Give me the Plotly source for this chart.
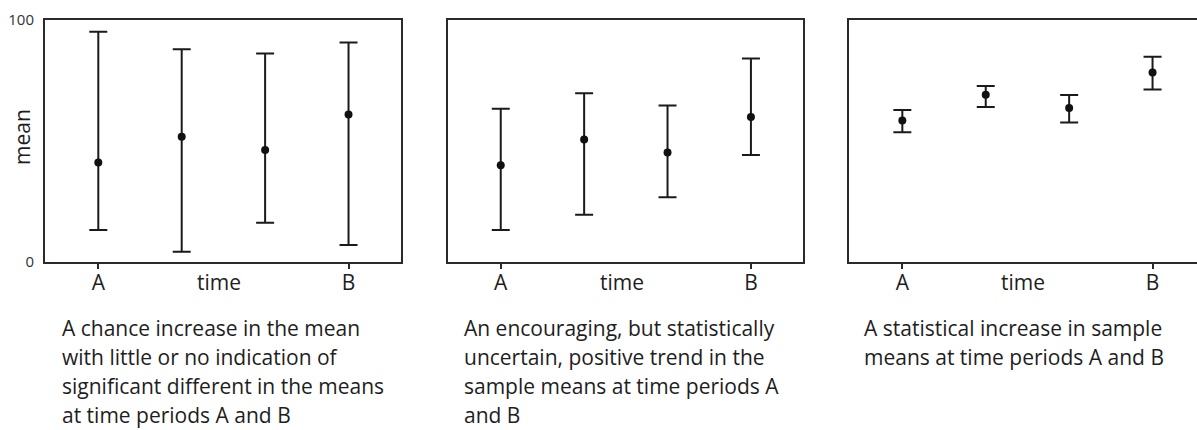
import plotly.graph_objects as go

# ---- data ----
time_x = [1, 2, 3, 4]
tick_vals = [1, 4]
tick_text = ["A", "B"]

p1_mean = [41.0, 51.6, 46.1, 60.8]
p1_upper = [94.9, 87.7, 86.0, 90.5]
p1_lower = [13.1, 4.1, 16.1, 6.9]

p2_mean = [39.8, 50.5, 45.1, 59.7]
p2_upper = [63.1, 69.5, 64.5, 83.9]
p2_lower = [13.1, 19.4, 26.6, 44.1]

p3_mean = [58.3, 68.9, 63.5, 78.1]
p3_upper = [62.6, 72.5, 68.8, 84.6]
p3_lower = [53.4, 63.9, 57.5, 71.1]

captions = [
    ["A chance increase in the mean", "with little or no indication of",
     "significant different in the means", "at time periods A and B"],
    ["An encouraging, but statistically", "uncertain, positive trend in the",
     "sample means at time periods A", "and B"],
    ["A statistical increase in sample", "means at time periods A and B"],
]

W, H = 1197, 430
FONT = "Open Sans"
INK = "#1e1e1e"

panels = [
    dict(mean=p1_mean, up=p1_upper, lo=p1_lower, dom=[45, 401], rng=[0.361, 4.629], mirror=True, cap_x=60),
    dict(mean=p2_mean, up=p2_upper, lo=p2_lower, dom=[447.7, 803.3], rng=[0.364, 4.628], mirror=True, cap_x=461.7),
    dict(mean=p3_mean, up=p3_upper, lo=p3_lower, dom=[849.3, 1197], rng=[0.364, 4.533], mirror=False, cap_x=862.3),
]

ydom = [1 - 261.7 / H, 1 - 19.5 / H]

fig = go.Figure()
annotations = []
layout = dict(
    width=W, height=H,
    margin=dict(l=0, r=0, t=0, b=0, autoexpand=False),
    paper_bgcolor="white", plot_bgcolor="white",
    showlegend=False,
    font=dict(family=FONT, color=INK),
)

for i, p in enumerate(panels):
    n = "" if i == 0 else str(i + 1)
    xa = "x" + n
    ya = "y" + n
    fig.add_trace(go.Scatter(
        x=time_x, y=p["mean"], mode="markers",
        marker=dict(size=8, color="#111"),
        error_y=dict(
            type="data", symmetric=False,
            array=[u - m for u, m in zip(p["up"], p["mean"])],
            arrayminus=[m - l for m, l in zip(p["mean"], p["lo"])],
            color="#1a1a1a", thickness=2, width=9,
        ),
        xaxis=xa, yaxis=ya,
    ))
    layout["xaxis" + n] = dict(
        domain=[p["dom"][0] / W, p["dom"][1] / W],
        range=p["rng"], anchor=ya,
        showline=True, linewidth=2, linecolor="#2a2a2a", mirror=True,
        showgrid=False, zeroline=False,
        tickvals=tick_vals, ticktext=tick_text,
        ticks="outside", ticklen=5, tickwidth=2, tickcolor="#2a2a2a",
        tickfont=dict(family=FONT, size=21, color=INK),
        ticklabelstandoff=-4,
    )
    layout["yaxis" + n] = dict(
        domain=ydom, range=[0, 100], anchor=xa,
        showline=True, linewidth=2, linecolor="#2a2a2a", mirror=p["mirror"],
        showgrid=False, zeroline=False,
        tickvals=[0, 100] if i == 0 else [],
        ticktext=["0", "100"] if i == 0 else [],
        ticks="", showticklabels=(i == 0),
        tickfont=dict(family=FONT, size=15, color="#333"),
        ticklabelstandoff=6,
    )
    # "time" axis label
    annotations.append(dict(
        x=2.45, y=1 - 282 / H, xref=xa, yref="paper",
        text="time", showarrow=False, xanchor="center", yanchor="middle",
        font=dict(family=FONT, size=21, color=INK),
    ))
    # caption lines
    for j, line in enumerate(captions[i]):
        annotations.append(dict(
            x=p["cap_x"] / W, y=1 - (328 + 29 * j) / H, xref="paper", yref="paper",
            text=line, showarrow=False, xanchor="left", yanchor="middle",
            font=dict(family=FONT, size=21, color=INK),
        ))

annotations.append(dict(
    x=22 / W, y=1 - 137 / H, xref="paper", yref="paper",
    text="mean", textangle=-90, showarrow=False,
    xanchor="center", yanchor="middle",
    font=dict(family=FONT, size=21, color=INK),
))

layout["annotations"] = annotations
fig.update_layout(**layout)
fig.write_html(
    "out.html",
    config={"displayModeBar": False},
    post_script="document.body.style.margin='0';document.body.style.overflow='hidden';",
)
